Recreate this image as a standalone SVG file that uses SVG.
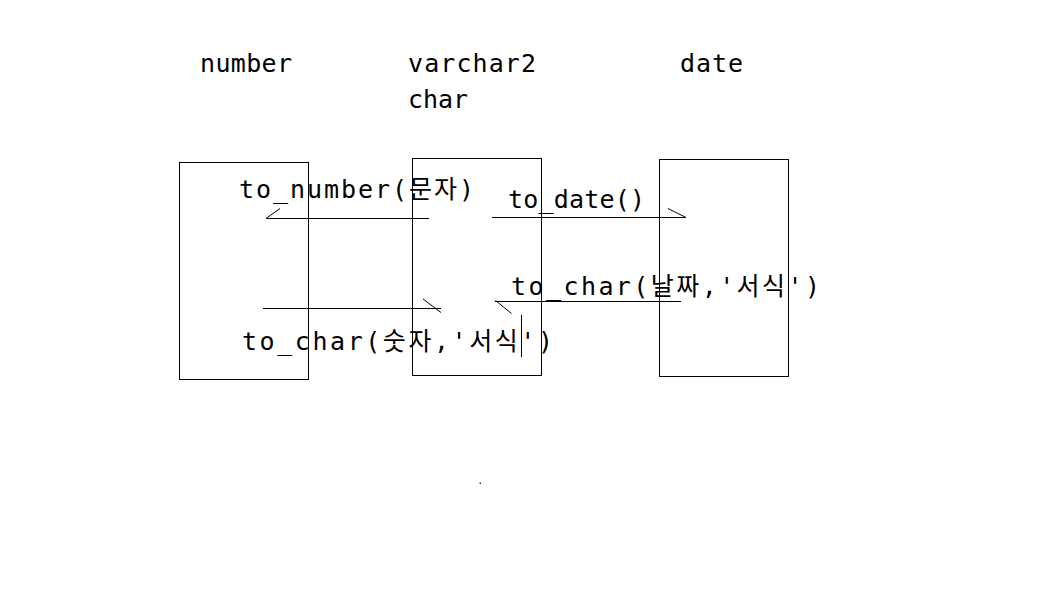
<svg xmlns="http://www.w3.org/2000/svg" width="1054" height="616" viewBox="0 0 1054 616">
<style>
.box{fill:none;stroke:#000;stroke-width:1}
.ln{stroke:#000;stroke-width:1;fill:none}
.t{font-family:"DejaVu Sans Mono","Liberation Mono","Noto Sans CJK KR",monospace;font-size:25px;fill:#000}
</style>
<rect width="1054" height="616" fill="#fff"/>
<g id="node-number">
<text class="t" x="200" y="72" textLength="92" lengthAdjust="spacing">number</text>
<rect class="box" x="179.5" y="162.5" width="129" height="217"/>
</g>
<g id="node-varchar2">
<text class="t" x="408" y="72" textLength="128" lengthAdjust="spacing">varchar2</text>
<text class="t" x="408" y="108" textLength="60" lengthAdjust="spacing">char</text>
<rect class="box" x="412.5" y="158.5" width="129" height="217"/>
</g>
<g id="node-date">
<text class="t" x="680" y="72" textLength="63" lengthAdjust="spacing">date</text>
<rect class="box" x="659.5" y="159.5" width="129" height="217"/>
</g>
<g id="connectors">
<line class="ln" x1="266" y1="218.5" x2="429" y2="218.5"/>
<line class="ln" x1="266" y1="218.5" x2="280" y2="208.5"/>
<text class="t" x="239" y="198" textLength="235" lengthAdjust="spacing">to_number(문자)</text>
<line class="ln" x1="263" y1="308.5" x2="441" y2="308.5"/>
<line class="ln" x1="423" y1="299" x2="441" y2="312.5"/>
<text class="t" x="242" y="350" textLength="311" lengthAdjust="spacing">to_char(숫자,'서식')</text>
<line class="ln" x1="492" y1="217.5" x2="686" y2="217.5"/>
<line class="ln" x1="668" y1="208.5" x2="686" y2="217.5"/>
<text class="t" x="508" y="208" textLength="137" lengthAdjust="spacing">to_date()</text>
<line class="ln" x1="495" y1="301.5" x2="681" y2="301.5"/>
<line class="ln" x1="495.5" y1="300.5" x2="511.5" y2="313.5"/>
<text class="t" x="511" y="295" textLength="309" lengthAdjust="spacing">to_char(날짜,'서식')</text>
<line class="ln" x1="521.5" y1="315" x2="521.5" y2="357"/>
</g>
<rect x="479.5" y="482.5" width="1.5" height="1.5" fill="#333"/>
</svg>
